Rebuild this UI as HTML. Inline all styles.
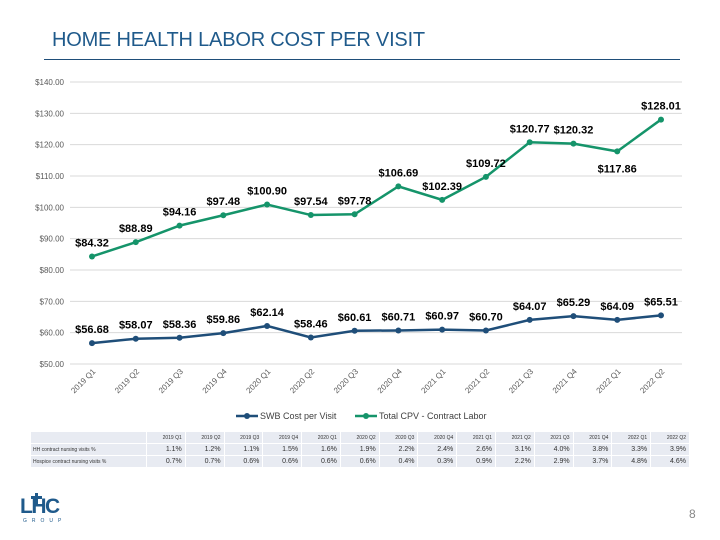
<!DOCTYPE html>
<html><head><meta charset="utf-8">
<style>
body{margin:0;width:720px;height:540px;background:#fff;font-family:"Liberation Sans",sans-serif;overflow:hidden;position:relative}
</style></head><body>
<div style="position:absolute;left:52px;top:29px;font-size:20px;color:#1f5a8b;letter-spacing:-0.2px">HOME HEALTH LABOR COST PER VISIT</div>
<div style="position:absolute;left:44px;top:59px;width:636px;height:1px;background:#1f4e79"></div>
<svg id="chart" width="720" height="430" style="position:absolute;left:0;top:0"></svg>
<table id="tbl" style="position:absolute;left:30px;top:431px;width:660px;border-collapse:collapse;table-layout:fixed;font-size:6px;color:#333"></table>
<div style="position:absolute;left:20px;top:497px;width:48px;height:28px">
<div style="font:bold 21px 'Liberation Sans',sans-serif;color:#1f5a8b;letter-spacing:-1.5px;line-height:20px">LHC</div>
<div style="position:absolute;left:15px;top:-4px;width:3px;height:12px;background:#1f5a8b"></div>
<div style="position:absolute;left:11px;top:-1px;width:11px;height:3px;background:#1f5a8b"></div>
<div style="font-size:5px;color:#1f5a8b;letter-spacing:5px;margin-top:1px;margin-left:3px">GROUP</div>
</div>
<div style="position:absolute;left:689px;top:507px;font-size:12px;color:#888">8</div>
<script>
const categories=["2019 Q1","2019 Q2","2019 Q3","2019 Q4","2020 Q1","2020 Q2","2020 Q3","2020 Q4","2021 Q1","2021 Q2","2021 Q3","2021 Q4","2022 Q1","2022 Q2"];
const swbValues=[56.68,58.07,58.36,59.86,62.14,58.46,60.61,60.71,60.97,60.70,64.07,65.29,64.09,65.51];
const totalValues=[84.32,88.89,94.16,97.48,100.90,97.54,97.78,106.69,102.39,109.72,120.77,120.32,117.86,128.01];
const yTicks=[50,60,70,80,90,100,110,120,130,140];
const hhPct=["1.1%","1.2%","1.1%","1.5%","1.6%","1.9%","2.2%","2.4%","2.6%","3.1%","4.0%","3.8%","3.3%","3.9%"];
const hospicePct=["0.7%","0.7%","0.6%","0.6%","0.6%","0.6%","0.4%","0.3%","0.9%","2.2%","2.9%","3.7%","4.8%","4.6%"];
const NS="http://www.w3.org/2000/svg";
const svg=document.getElementById('chart');
const x=i=>92+i*(661-92)/13;
const y=v=>364-(v-50)*(364-82)/90;
function el(t,a){const e=document.createElementNS(NS,t);for(const k in a)e.setAttribute(k,a[k]);svg.appendChild(e);return e;}
yTicks.forEach(t=>{
 const g=el('line',{x1:70,x2:682,y1:y(t),y2:y(t),stroke:'#d9d9d9','stroke-width':1});
 
 
 const l=el('text',{x:64,y:y(t)+3,'text-anchor':'end','font-size':8,fill:'#595959'});
 l.textContent='$'+t.toFixed(2);
 
 
});
categories.forEach((c,i)=>{
 const t=el('text',{x:x(i)+4,y:372,'text-anchor':'end','font-size':8,fill:'#595959',transform:`rotate(-45 ${x(i)+4} 372)`});
 t.textContent=c;
 
 
});
function series(vals,color,name,below){
 const p=el('polyline',{points:vals.map((v,i)=>x(i)+','+y(v)).join(' '),fill:'none',stroke:color,'stroke-width':2.5});
 
 
 vals.forEach((v,i)=>{
  const c=el('circle',{cx:x(i),cy:y(v),r:3,fill:color});
  
  
  const b=below.includes(i);
  const t=el('text',{x:x(i),y:b?y(v)+21:y(v)-10,'text-anchor':'middle','font-size':11,'font-weight':'bold',fill:'#000'});
  t.textContent='$'+v.toFixed(2);
  
  
 });
}
series(totalValues,'#15946a','total-cpv',[12]);
series(swbValues,'#1f4e79','swb-cpv',[]);
[[236,'#1f4e79','SWB Cost per Visit','legend-swb'],[355,'#15946a','Total CPV - Contract Labor','legend-total-cpv']].forEach(([lx,c,txt,n])=>{
 const l=el('line',{x1:lx,x2:lx+22,y1:416,y2:416,stroke:c,'stroke-width':2.5});
 
 
 const d=el('circle',{cx:lx+11,cy:416,r:3,fill:c});
 
 
 const t=el('text',{x:lx+24,y:419,'font-size':9,fill:'#404040'});
 t.textContent=txt;
 
 
});
const tbl=document.getElementById('tbl');
function row(label,vals,fs,h){
 const tr=document.createElement('tr');
 
 
 const td=document.createElement('td');td.textContent=label;
 td.style.cssText=`background:#e8ebf2;border:1px solid #fff;width:111px;height:${h}px;padding:0 2px;font-size:5px;white-space:nowrap;overflow:hidden`;
 tr.appendChild(td);
 vals.forEach(v=>{const d=document.createElement('td');d.textContent=v;d.style.cssText=`background:#e8ebf2;border:1px solid #fff;text-align:right;padding:0 3px;font-size:${fs}px;height:${h}px`;tr.appendChild(d);});
 tbl.appendChild(tr);
}
row('',categories,5,11);
row('HH contract nursing visits %',hhPct,7,11);
row('Hospice contract nursing visits %',hospicePct,7,11);
</script>
</body></html>
